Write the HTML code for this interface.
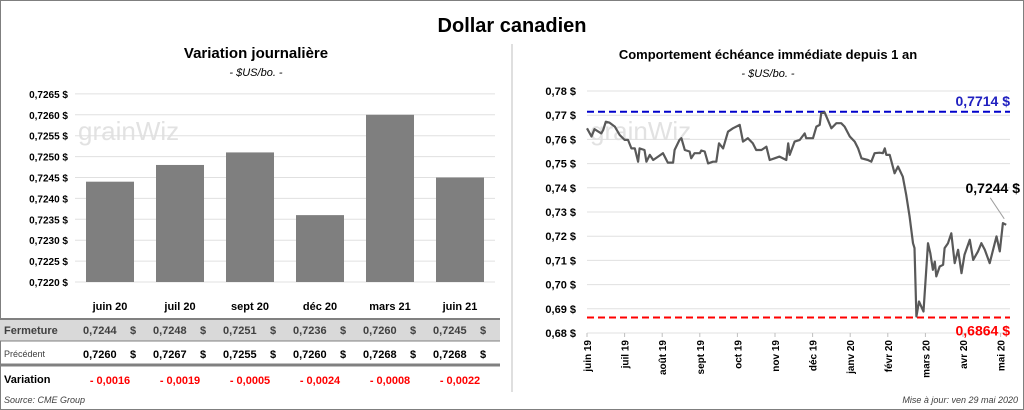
<!DOCTYPE html>
<html><head><meta charset="utf-8"><style>
body{margin:0;width:1024px;height:410px;background:#fff;font-family:"Liberation Sans",sans-serif;overflow:hidden}
svg{position:absolute;left:0;top:0}
</style></head><body>
<svg id="s" width="1024" height="410">
<rect x="0.5" y="0.5" width="1023" height="409" fill="none" stroke="#7f7f7f"/>
<text x="512" y="32" text-anchor="middle" font-size="20" font-weight="bold">Dollar canadien</text>
<line x1="512" y1="44" x2="512" y2="392" stroke="#bfbfbf"/>
<text x="256" y="58" text-anchor="middle" font-size="15" font-weight="bold">Variation  journalière</text>
<text x="256" y="76" text-anchor="middle" font-size="11" font-style="italic">- $US/bo. -</text>
<text x="768" y="59" text-anchor="middle" font-size="13" font-weight="bold">Comportement échéance immédiate depuis 1 an</text>
<text x="768" y="77" text-anchor="middle" font-size="11" font-style="italic">- $US/bo. -</text>
<text x="78" y="140" font-size="26" fill="#e2e2e2">grainWiz</text>
<text x="590" y="140" font-size="26" fill="#e2e2e2">grainWiz</text>
<g id="left"></g><g id="right"></g><g id="tbl"></g>
<text x="4" y="403" font-size="9" font-style="italic" fill="#404040">Source: CME Group</text>
<text x="1018" y="403" text-anchor="end" font-size="9" font-style="italic" fill="#404040">Mise à jour: ven 29 mai 2020</text>
</svg>
<script>
const NS="http://www.w3.org/2000/svg";
function mk(p,t,a,txt){const e=document.createElementNS(NS,t);for(const k in a)e.setAttribute(k,a[k]);if(txt!==undefined)e.textContent=txt;p.appendChild(e);return e;}
// Left chart data
const contracts=["juin 20","juil 20","sept 20","déc 20","mars 21","juin 21"];
const closeVals=[0.7244,0.7248,0.7251,0.7236,0.7260,0.7245];
const prevVals=[0.7260,0.7267,0.7255,0.7260,0.7268,0.7268];
const variations=[-0.0016,-0.0019,-0.0005,-0.0024,-0.0008,-0.0022];
const leftTicks=[0.7220,0.7225,0.7230,0.7235,0.7240,0.7245,0.7250,0.7255,0.7260,0.7265];
// Right chart data (t = months since start of June 2019)
const tMonths=[0,.12,.2,.38,.43,.5,.6,.74,.87,1.0,1.09,1.18,1.27,1.36,1.4,1.53,1.58,1.67,1.76,1.89,2.02,2.15,2.29,2.33,2.46,2.51,2.6,2.73,2.77,2.86,3.0,3.04,3.13,3.22,3.35,3.44,3.51,3.62,3.75,3.88,4.06,4.15,4.28,4.41,4.5,4.64,4.77,4.86,4.99,5.12,5.3,5.35,5.39,5.52,5.66,5.79,5.83,5.92,6.01,6.1,6.19,6.23,6.32,6.5,6.63,6.76,6.85,6.99,7.12,7.21,7.3,7.47,7.56,7.65,7.78,7.87,7.92,7.96,8.05,8.18,8.27,8.4,8.49,8.58,8.67,8.71,8.76,8.83,8.95,9.07,9.13,9.2,9.25,9.29,9.38,9.47,9.51,9.6,9.69,9.78,9.87,9.96,10.04,10.18,10.27,10.4,10.49,10.58,10.71,10.89,10.98,11.06,11.15];
const prices=[.7646,.7612,.7642,.7625,.7639,.7673,.7669,.7653,.7618,.7598,.7598,.7563,.7563,.7508,.7563,.7556,.7508,.7536,.7515,.7529,.7543,.7504,.7504,.7556,.7598,.7605,.7556,.7550,.7522,.7543,.7543,.7554,.7550,.7501,.7508,.7508,.7584,.7563,.7632,.7646,.7660,.7591,.7605,.7584,.7556,.7556,.7570,.7515,.7522,.7529,.7515,.7584,.7536,.7591,.7598,.7625,.7605,.7605,.7605,.7653,.7660,.7708,.7712,.7646,.7667,.7667,.7653,.7612,.7591,.7563,.7522,.7515,.7508,.7543,.7545,.7543,.7563,.7536,.7536,.7460,.7488,.7446,.7371,.7281,.7171,.7151,.6868,.6930,.6889,.7171,.7130,.7061,.7095,.7034,.7075,.7082,.7151,.7171,.7212,.7089,.7144,.7047,.7123,.7185,.7102,.7137,.7171,.7144,.7089,.7199,.7137,.7254,.7247];
const rightTicks=[0.68,0.69,0.70,0.71,0.72,0.73,0.74,0.75,0.76,0.77,0.78];
const monthLabels=["juin 19","juil 19","août 19","sept 19","oct 19","nov 19","déc 19","janv 20","févr 20","mars 20","avr 20","mai 20"];
const highVal=0.7714, lowVal=0.6864, lastVal=0.7244;
const fmt4=v=>v.toFixed(4).replace('.',',');
const fmt2=v=>v.toFixed(2).replace('.',',');
// left chart
const L=document.getElementById('left');
const ly=v=>282-(v-0.7220)/0.0005*20.9;
const lx0=75,lcw=70;
leftTicks.forEach(v=>{
 const g=mk(L,'line',{x1:lx0,x2:495,y1:ly(v),y2:ly(v),stroke:'#e0e0e0'});
 
 const t=mk(L,'text',{x:68,y:ly(v)+4,'text-anchor':'end','font-size':10,'font-weight':'bold'},fmt4(v)+' $');
 
});
closeVals.forEach((v,i)=>{
 const b=mk(L,'rect',{x:lx0+i*lcw+11,y:ly(v),width:48,height:282-ly(v),fill:'#7f7f7f'});
 
});
// table
const T=document.getElementById('tbl');
let r=mk(T,'rect',{x:0,y:319,width:500,height:22,fill:'#d9d9d9'});
[[0,319,500,'#808080',2],[0,341,500,'#808080',1],[0,365,500,'#808080',3]].forEach(a=>{const l=mk(T,'line',{x1:a[0],x2:a[2],y1:a[1],y2:a[1],stroke:a[3],'stroke-width':a[4]});});
let h=mk(T,'text',{x:4,y:334,'font-size':11,'font-weight':'bold',fill:'#404040'},'Fermeture');
h=mk(T,'text',{x:4,y:357,'font-size':9,fill:'#404040'},'Précédent');
h=mk(T,'text',{x:4,y:383,'font-size':11,'font-weight':'bold'},'Variation');
contracts.forEach((c,i)=>{
 const cx=lx0+i*lcw+35;
 let t=mk(T,'text',{x:cx,y:310,'text-anchor':'middle','font-size':11,'font-weight':'bold'},c);
 t=mk(T,'text',{x:cx-27,y:334,'font-size':11,'font-weight':'bold',fill:'#404040'},fmt4(closeVals[i]));
 t=mk(T,'text',{x:cx+20,y:334,'font-size':11,'font-weight':'bold',fill:'#404040'},'$');
 t=mk(T,'text',{x:cx-27,y:358,'font-size':11,'font-weight':'bold'},fmt4(prevVals[i]));
 t=mk(T,'text',{x:cx+20,y:358,'font-size':11,'font-weight':'bold'},'$');
 const d=variations[i];
 t=mk(T,'text',{x:cx,y:384,'text-anchor':'middle','font-size':11,'font-weight':'bold',fill:'#ff0000'},(d<0?'- ':'+ ')+fmt4(Math.abs(d)));
});
// right chart
const R=document.getElementById('right');
const ry=v=>333-(v-0.68)/0.01*24.2;
const rx=t=>587+t*37.6;
rightTicks.forEach(v=>{
 const g=mk(R,'line',{x1:587,x2:1010,y1:ry(v),y2:ry(v),stroke:'#e0e0e0'});
 const t=mk(R,'text',{x:576,y:ry(v)+4,'text-anchor':'end','font-size':11,'font-weight':'bold'},fmt2(v)+' $');
});
monthLabels.forEach((m,i)=>{
 const x=rx(i);
 const tk=mk(R,'line',{x1:x,x2:x,y1:333,y2:337,stroke:'#bfbfbf'});
 const t=mk(R,'text',{x:x+4,y:340,'text-anchor':'end','font-size':10,'font-weight':'bold',transform:`rotate(-90 ${x+4} 340)`},m);
});
let e=mk(R,'line',{x1:587,x2:1010,y1:ry(highVal),y2:ry(highVal),stroke:'#0000cc','stroke-width':2,'stroke-dasharray':'7,4'});
e=mk(R,'line',{x1:587,x2:1010,y1:ry(lowVal),y2:ry(lowVal),stroke:'#ff0000','stroke-width':2,'stroke-dasharray':'7,4'});
e=mk(R,'text',{x:1010,y:ry(highVal)-6,'text-anchor':'end','font-size':14,'font-weight':'bold',fill:'#2020c0'},fmt4(highVal)+' $');
e=mk(R,'text',{x:1010,y:ry(lowVal)+18,'text-anchor':'end','font-size':14,'font-weight':'bold',fill:'#ff0000'},fmt4(lowVal)+' $');
const pts=tMonths.map((t,i)=>rx(t).toFixed(1)+','+ry(prices[i]).toFixed(1)).join(' ');
e=mk(R,'polyline',{points:pts,fill:'none',stroke:'#595959','stroke-width':2.2,'stroke-linejoin':'round'});
const lx=rx(tMonths[tMonths.length-1]),lyv=ry(prices[prices.length-1]);
e=mk(R,'line',{x1:lx-2,y1:lyv-6,x2:lx-16,y2:lyv-27,stroke:'#a0a0a0'});
e=mk(R,'text',{x:1020,y:193,'text-anchor':'end','font-size':14,'font-weight':'bold'},fmt4(lastVal)+' $');
</script>
</body></html>
